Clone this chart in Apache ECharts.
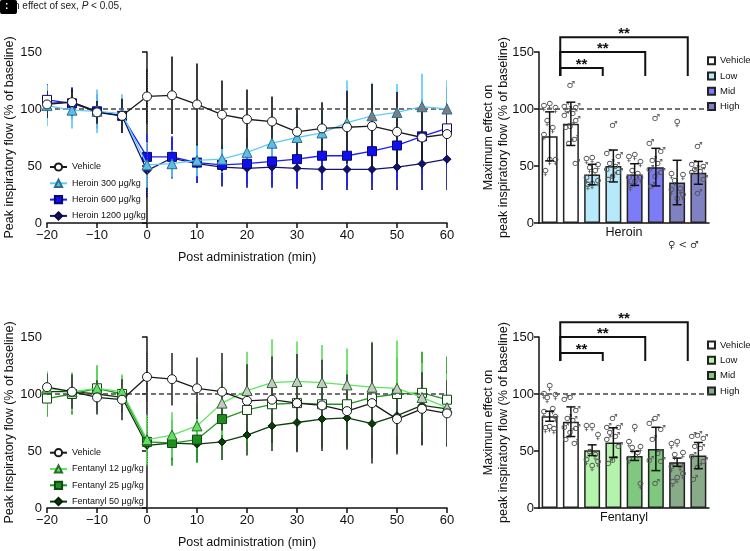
<!DOCTYPE html>
<html><head><meta charset="utf-8">
<script src="https://cdn.jsdelivr.net/npm/echarts@6/dist/echarts.min.js"></script>
<style>html,body{margin:0;padding:0;background:#fff}#c{width:750px;height:551px}</style>
</head><body><div id="c"></div>
<script>
// ---------- data ----------
const timeMin = [-20,-15,-10,-5,0,5,10,15,20,25,30,35,40,45,50,55,60];

const heroinVehicle   = [104,106,97,94,111,112,104,95,91,89,80,83,84,85,80,75,78];
const heroinVehicleSD = [12,12,10,15,24,34,36,30,26,22,21,23,32,37,35,27,27];
const heroin300       = [103,99,98,96,51,52,55,56,62,70,75,79,88,94,97,102,100];
const heroin300SD     = [18,16,19,17,20,12,14,12,13,16,20,22,37,29,25,29,25];
const heroin600       = [108,105,98,94,58,58,53,51,52,54,56,59,59,63,68,76,83];
const heroin600SD     = [14,14,15,15,20,18,16,15,18,20,22,24,27,28,30,33,36];
const heroin1200      = [105,106,98,94,46,57,52,49,48,49,48,47,47,47,49,52,56];
const heroin1200SD    = [10,10,10,12,24,18,17,17,17,18,18,18,18,18,20,23,27];

const fentVehicle     = [106,102,97,95,115,113,105,102,94,95,92,90,85,92,78,87,83];
const fentVehicleSD   = [12,15,15,18,22,23,27,34,32,38,43,40,32,53,31,32,29];
const fent12          = [105,102,105,102,60,64,72,92,103,110,111,110,108,106,105,97,88];
const fent12SD        = [15,17,20,15,22,20,20,28,34,38,35,33,32,40,42,30,30];
const fent25          = [96,100,105,100,58,57,60,78,86,91,92,91,91,97,100,101,95];
const fent25SD        = [16,18,20,16,22,20,20,25,28,30,30,30,30,30,32,36,38];
const fent50          = [102,102,100,97,55,57,56,58,64,72,75,78,79,74,81,90,87];
const fent50SD        = [10,10,10,12,18,15,16,16,18,22,25,25,28,30,32,35,33];

const barSlots   = ['Vehicle ♀','Vehicle ♂','Low ♀','Low ♂','Mid ♀','Mid ♂','High ♀','High ♂'];
const barGroups  = ['Vehicle','Low','Mid','High'];
const heroinBarMean = [76,87,42.5,50,42.5,49,35.5,44];
const heroinBarErr  = [21.5,19,9,14,9.5,16.5,19.5,10];
const fentBarMean   = [80.5,75.7,50.7,57.4,45.7,51.8,40.2,46];
const fentBarErr    = [4.4,13,4.7,13,4,19,3.6,11.5];

const heroinPoints = [
  [103,101,100,88,82,76,54,54,44],
  [121,102,101,99,96,94,90,85,84,73,70,52],
  [56,55,50,47,44,38,36,33,32],
  [86,61,58,52,50,47,44,41,38],
  [58,57,52,44,42,38,38,35,31],
  [92,70,63,55,52,47,44,41,32],
  [87,42,41,36,29,28,23,20],
  [67,51,50,47,45,44,38,26]
];
const fentPoints = [
  [106,99,98,95,86,83,79,70,69,68],
  [97,95,86,79,77,71,70,66,60,57],
  [71,71,63,48,45,41,39,36],
  [79,71,71,66,63,60,54,42,39],
  [70,57,52,51,47,42,20],
  [79,74,69,60,48,42,41,22],
  [57,55,47,45,36,35,29,25,22],
  [64,63,61,54,52,45,41,36,25]
];
const yTicks = [0,50,100,150];

// ---------- helpers ----------
const FONT = '"Liberation Sans", Arial, sans-serif';
const INK = '#111';
const labelMap = {
  hVeh:'Vehicle', h300:'Heroin 300 μg/kg', h600:'Heroin 600 μg/kg', h1200:'Heroin 1200 μg/kg',
  fVeh:'Vehicle', f12:'Fentanyl 12 μg/kg', f25:'Fentanyl 25 μg/kg', f50:'Fentanyl 50 μg/kg',
  bhVeh:'Vehicle', bhLow:'Low', bhMid:'Mid', bhHigh:'High',
  bfVeh:'Vehicle', bfLow:'Low', bfMid:'Mid', bfHigh:'High'
};
const groupOf = barSlots.map((s)=>barGroups.indexOf(s.split(' ')[0]));
const jitter = [0,-0.27,0.27,-0.12,0.14,-0.27,0.27,0,-0.2,0.2,-0.05,0.25];

function errSeries(xi, yi, m, sd, color, z, extra) {
  return Object.assign({
    type:'custom', xAxisIndex:xi, yAxisIndex:yi, z, silent:true, clip:true,
    data: timeMin.map((t,i)=>[t, m[i]-sd[i], m[i]+sd[i]]),
    encode:{x:0, y:[1,2]},
    renderItem:(p, api)=>{
      const a = api.coord([api.value(0), Math.max(0, api.value(1))]);
      const b = api.coord([api.value(0), Math.min(150, api.value(2))]);
      return {type:'line', shape:{x1:a[0],y1:a[1],x2:b[0],y2:b[1]}, style:{stroke:color, lineWidth:1.7}};
    }
  }, extra || {});
}
function lineSeries(id, xi, yi, m, o) {
  return {
    type:'line', name:id, xAxisIndex:xi, yAxisIndex:yi, z:o.z,
    data: timeMin.map((t,i)=>{
      const d = {value:[t, m[i]]};
      if (o.alt && o.alt(t)) d.itemStyle = {color:o.altColor};
      return d;
    }),
    symbol:o.symbol, symbolSize:o.size, showSymbol:true,
    lineStyle:{color:o.line, width:1.3},
    itemStyle:{color:o.fill, borderColor:o.border, borderWidth:1},
    emphasis:{disabled:true}
  };
}
function barSeries(id, yi, means, g, fill) {
  return {
    type:'bar', name:id, xAxisIndex: yi===1 ? 1 : 4, yAxisIndex:yi, z:2,
    barWidth:'75%', barGap:'-100%',
    data: means.map((v,i)=> groupOf[i]===g ? v : '-'),
    itemStyle:{color:fill, borderColor:'#222', borderWidth:1.5},
    emphasis:{disabled:true}
  };
}
function barErrSeries(xi, yi, means, errs) {
  return {
    type:'custom', xAxisIndex:xi, yAxisIndex:yi, z:6, silent:true,
    data: means.map((v,i)=>[i+0.5, v-errs[i], v+errs[i]]),
    encode:{x:0, y:[1,2]},
    renderItem:(p, api)=>{
      const a = api.coord([api.value(0), api.value(1)]);
      const b = api.coord([api.value(0), api.value(2)]);
      const w = 4.5, st = {stroke:INK, lineWidth:1.5};
      return {type:'group', children:[
        {type:'line', shape:{x1:a[0],y1:a[1],x2:b[0],y2:b[1]}, style:st},
        {type:'line', shape:{x1:a[0]-w,y1:a[1],x2:a[0]+w,y2:a[1]}, style:st},
        {type:'line', shape:{x1:b[0]-w,y1:b[1],x2:b[0]+w,y2:b[1]}, style:st}
      ]};
    }
  };
}
function pointSeries(xi, yi, pts) {
  const data = [];
  pts.forEach((arr,i)=>arr.forEach((v,j)=>data.push([i+0.5+jitter[j%jitter.length], v, i%2])));
  return {
    type:'custom', xAxisIndex:xi, yAxisIndex:yi, z:5, silent:true,
    data, encode:{x:0, y:1},
    renderItem:(p, api)=>{
      const c = api.coord([api.value(0), api.value(1)]);
      return {type:'text', x:c[0], y:c[1], style:{
        text: api.value(2) ? '♂' : '♀', fill:'#555', fontSize:10,
        fontFamily:'"DejaVu Sans", sans-serif', align:'center', verticalAlign:'middle'}};
    }
  };
}
function bracketSeries(xi, yi) {
  const targets = [3,5,7], levels = [136,150,163], drop = 129;
  return {
    type:'custom', xAxisIndex:xi, yAxisIndex:yi, z:7, silent:true, clip:false,
    data: targets.map((xr,k)=>[1, xr, levels[k], drop]),
    renderItem:(p, api)=>{
      const xl = api.value(0), xr = api.value(1), lv = api.value(2), dr = api.value(3);
      const pts = [[xl,dr],[xl,lv],[xr,lv],[xr,dr]].map(q=>api.coord(q));
      const mid = api.coord([(xl+xr)/2, lv]);
      return {type:'group', children:[
        {type:'polyline', shape:{points:pts}, style:{stroke:INK, lineWidth:2, fill:null}},
        {type:'text', x:mid[0], y:mid[1]-3, style:{text:'**', fill:INK, fontSize:15, fontWeight:'bold',
          fontFamily:FONT, align:'center', verticalAlign:'middle'}}
      ]};
    }
  };
}
const markLines = (withVertical) => ({
  silent:true, symbol:'none', label:{show:false},
  data: [
    {yAxis:100, lineStyle:{color:'#444', width:1.5, type:[5,3]}}
  ].concat(withVertical ? [{xAxis:0, lineStyle:{color:'#666', width:1, type:[1,1.5]}}] : [])
});

const axisCommon = {
  axisLine:{show:true, lineStyle:{color:INK, width:1.5}},
  axisTick:{show:true, length:5, lineStyle:{color:INK, width:1.5}},
  splitLine:{show:false},
  axisLabel:{color:INK, fontSize:13, fontFamily:FONT},
  nameMoveOverlap:false,
  nameTextStyle:{color:INK, fontSize:12.5, fontFamily:FONT}
};
const fmtX = v => v < 0 ? '\u2212' + Math.abs(v) : String(v);

function timeAxis(gi) {
  return Object.assign({}, axisCommon, {
    type:'value', gridIndex:gi, min:-20, max:60, interval:10,
    name:'Post administration (min)', nameLocation:'middle', nameGap:28,
    axisLabel:Object.assign({}, axisCommon.axisLabel, {formatter:fmtX, margin:6})
  });
}
function catAxis(gi, name) {
  return Object.assign({}, axisCommon, {
    type:'category', gridIndex:gi, data:barSlots,
    axisTick:{show:false}, axisLabel:{show:false},
    name, nameLocation:'middle', nameGap:3
  });
}
function hiddenAxis(gi) {
  return {type:'value', gridIndex:gi, min:0, max:8, show:false};
}
function flowAxis(gi, name, gap) {
  return Object.assign({}, axisCommon, {
    type:'value', gridIndex:gi, min:0, max:150, interval:50,
    name, nameLocation:'middle', nameGap:gap,
    nameTextStyle:Object.assign({}, axisCommon.nameTextStyle, {lineHeight:15}),
    axisLabel:Object.assign({}, axisCommon.axisLabel, {margin:5,
      formatter: v => yTicks.indexOf(v) >= 0 ? String(v) : ''})
  });
}
function lineLegend(names, top) {
  return {data:names, orient:'vertical', left:49, top, padding:0, itemWidth:17, itemHeight:9, itemGap:4.3,
    formatter:n=>labelMap[n], selectedMode:false,
    textStyle:{color:INK, fontSize:9, fontFamily:FONT, lineHeight:12}};
}
function barLegend(names, top) {
  return {data:names, orient:'vertical', left:707, top, padding:0, itemWidth:7, itemHeight:7, itemGap:3.3, icon:'rect',
    formatter:n=>labelMap[n], selectedMode:false,
    textStyle:{color:INK, fontSize:9.5, fontFamily:FONT, lineHeight:12}};
}

const VEH = {symbol:'circle', size:9, line:'#1a1a1a', fill:'#fff', border:'#1a1a1a'};
const G = (left, top, width) => ({left, top, width, height:171, containLabel:false, outerBoundsMode:'none'});

const option = {
  animation:false,
  backgroundColor:'#fff',
  textStyle:{fontFamily:FONT},
  grid:[ G(47,52,400), G(539,52,170), G(47,337,400), G(539,337,170) ],
  xAxis:[ timeAxis(0), catAxis(1,'Heroin'), hiddenAxis(1), timeAxis(2), catAxis(3,'Fentanyl'), hiddenAxis(3) ],
  yAxis:[
    flowAxis(0,'Peak inspiratory flow (% of baseline)',30),
    flowAxis(1,'Maximum effect on\npeak inspiratory flow (% of baseline)',28),
    flowAxis(2,'Peak inspiratory flow (% of baseline)',30),
    flowAxis(3,'Maximum effect on\npeak inspiratory flow (% of baseline)',28)
  ],
  legend:[
    lineLegend(['hVeh','h300','h600','h1200'], 161),
    barLegend(['bhVeh','bhLow','bhMid','bhHigh'], 54.7),
    lineLegend(['fVeh','f12','f25','f50'], 446.7),
    barLegend(['bfVeh','bfLow','bfMid','bfHigh'], 339)
  ],
  graphic:[
    {type:'rect', left:0, top:0, z:10, shape:{width:17, height:14, r:2}, style:{fill:'#000'}},
    {type:'text', left:5, top:1, z:11, style:{text:':', fill:'#fff', font:'bold 10px ' + FONT}},
    {type:'text', left:14, top:1, style:{text:'n effect of sex, {i|P} < 0.05,', fill:'#222',
      fontSize:10, fontFamily:FONT, rich:{i:{fontStyle:'italic', fontSize:10, fontFamily:FONT, fill:'#222'}}}},
    {type:'text', left:668, top:240, style:{text:'♀ < ♂', fill:'#333', fontSize:10, fontFamily:'"DejaVu Sans", sans-serif'}}
  ],
  series:[
    // ----- heroin time course -----
    errSeries(0,0,heroin1200,heroin1200SD,'#12128c',1, {markLine:markLines(true)}),
    errSeries(0,0,heroin600,heroin600SD,'#2323ff',1),
    errSeries(0,0,heroin300,heroin300SD,'#62ccf5',1),
    errSeries(0,0,heroinVehicle,heroinVehicleSD,'#1a1a1a',2),
    lineSeries('h1200',0,0,heroin1200,{z:3,symbol:'diamond',size:8,line:'#14146e',fill:'#12126e',border:'#0a0a40'}),
    lineSeries('h600',0,0,heroin600,{z:4,symbol:'rect',size:9,line:'#1c1cff',fill:'#1010ee',border:'#080870',
      alt:t=>t===-20||t===60, altColor:'#ffffff'}),
    lineSeries('h300',0,0,heroin300,{z:5,symbol:'triangle',size:10,line:'#62ccf5',fill:'#5cbde6',border:'#2b6f8e',
      alt:t=>t>=45, altColor:'#7a7f85'}),
    lineSeries('hVeh',0,0,heroinVehicle,Object.assign({z:6},VEH)),
    // ----- heroin bars -----
    Object.assign(barSeries('bhVeh',1,heroinBarMean,0,'#ffffff'), {markLine:markLines(false)}),
    barSeries('bhLow',1,heroinBarMean,1,'#b6e9f9'),
    barSeries('bhMid',1,heroinBarMean,2,'#7b7cf6'),
    barSeries('bhHigh',1,heroinBarMean,3,'#8081c2'),
    pointSeries(2,1,heroinPoints),
    barErrSeries(2,1,heroinBarMean,heroinBarErr),
    bracketSeries(2,1),
    // ----- fentanyl time course -----
    errSeries(3,2,fent50,fent50SD,'#1d5a1d',1, {markLine:markLines(true)}),
    errSeries(3,2,fent25,fent25SD,'#2a9a2a',1),
    errSeries(3,2,fent12,fent12SD,'#62e062',1),
    errSeries(3,2,fentVehicle,fentVehicleSD,'#3a3a3a',2),
    lineSeries('f50',3,2,fent50,{z:3,symbol:'diamond',size:8,line:'#0d3d0d',fill:'#0b3a0b',border:'#052005'}),
    lineSeries('f25',3,2,fent25,{z:4,symbol:'rect',size:9,line:'#229622',fill:'#1e8c1e',border:'#0d4a0d',
      alt:t=>t<0||t>=20, altColor:'#ffffff'}),
    lineSeries('f12',3,2,fent12,{z:5,symbol:'triangle',size:10,line:'#5ee65e',fill:'#62e062',border:'#2a6a2a',
      alt:t=>t>=15, altColor:'#c8c8c8'}),
    lineSeries('fVeh',3,2,fentVehicle,Object.assign({z:6},VEH)),
    // ----- fentanyl bars -----
    Object.assign(barSeries('bfVeh',3,fentBarMean,0,'#ffffff'), {markLine:markLines(false)}),
    barSeries('bfLow',3,fentBarMean,1,'#b3f3ab'),
    barSeries('bfMid',3,fentBarMean,2,'#80c880'),
    barSeries('bfHigh',3,fentBarMean,3,'#89ab89'),
    pointSeries(5,3,fentPoints),
    barErrSeries(5,3,fentBarMean,fentBarErr),
    bracketSeries(5,3)
  ]
};
const chart = echarts.init(document.getElementById('c'), null, {renderer:'canvas'});
chart.setOption(option);
</script></body></html>
